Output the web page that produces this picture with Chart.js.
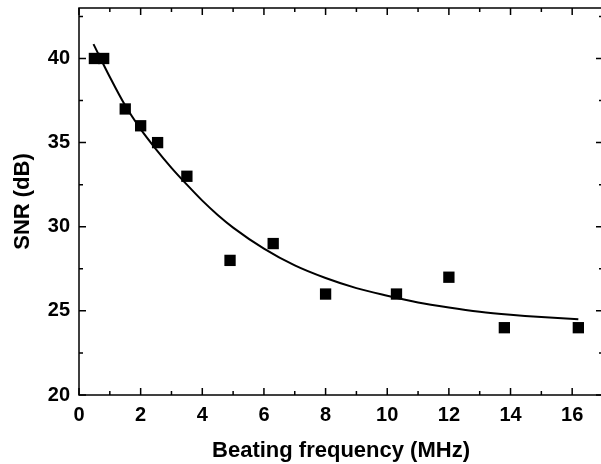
<!DOCTYPE html>
<html>
<head>
<meta charset="utf-8">
<script src="https://cdn.jsdelivr.net/npm/chart.js@4.4.0/dist/chart.umd.min.js"></script>
<style>
  html, body { margin: 0; padding: 0; background: #fff; }
  #wrap { width: 601px; height: 464px; overflow: hidden; }
  #wrap canvas { display: block; }
</style>
</head>
<body>
<div id="wrap"><canvas id="snrChart" width="611" height="464"></canvas></div>
<script>
// measured points
const freqMHz = [0.5, 0.8, 1.5, 2.0, 2.55, 3.5, 4.9, 6.3, 8.0, 10.3, 12.0, 13.8, 16.2];
const snrDb = [40, 40, 37, 36, 35, 33, 28, 29, 26, 26, 27, 24, 24];

// fitted curve
const fitFreq = [0.47, 1.0, 1.5, 2.0, 2.5, 3.0, 3.5, 4.0, 4.5, 5.0, 6.0, 7.0, 8.0, 9.0, 10.0, 11.0, 12.0, 13.0, 14.0, 15.0, 16.2];
const fitSnr = [40.85, 38.9, 37.2, 35.8, 34.6, 33.5, 32.5, 31.55, 30.7, 29.95, 28.7, 27.7, 26.95, 26.35, 25.9, 25.5, 25.2, 24.95, 24.77, 24.63, 24.5];

const X_MIN = 0, X_MAX = 17, Y_MIN = 20, Y_MAX = 43;

const FONT = '"Liberation Sans", Arial, Helvetica, sans-serif';

// box round the plot with inward ticks on all four sides
const frameTicks = {
    id: 'frameTicks',
    afterDraw(chart) {
        const ctx = chart.ctx;
        const area = chart.chartArea;
        const xs = chart.scales.x;
        const ys = chart.scales.y;
        ctx.save();
        ctx.strokeStyle = '#000';
        ctx.lineWidth = 1.5;
        ctx.strokeRect(area.left, area.top, area.right - area.left, area.bottom - area.top);
        ctx.beginPath();
        for (let v = X_MIN; v <= X_MAX; v += 1) {
            const px = xs.getPixelForValue(v);
            const len = (v % 2 === 0) ? 7 : 4;
            ctx.moveTo(px, area.bottom);
            ctx.lineTo(px, area.bottom - len);
            ctx.moveTo(px, area.top);
            ctx.lineTo(px, area.top + len);
        }
        for (let v = Y_MIN; v <= Y_MAX; v += 2.5) {
            const py = ys.getPixelForValue(v);
            const len = (v % 5 === 0) ? 7 : 4;
            ctx.moveTo(area.left, py);
            ctx.lineTo(area.left + len, py);
            ctx.moveTo(area.right, py);
            ctx.lineTo(area.right - len, py);
        }
        ctx.stroke();
        ctx.restore();
    }
};

const points = freqMHz.map((f, i) => ({x: f, y: snrDb[i]}));
const fitLine = fitFreq.map((f, i) => ({x: f, y: fitSnr[i]}));

new Chart(document.getElementById('snrChart'), {
    type: 'scatter',
    data: {
        datasets: [{
            type: 'line',
            data: fitLine,
            borderColor: '#000',
            borderWidth: 2,
            pointRadius: 0,
            cubicInterpolationMode: 'monotone',
            fill: false,
            order: 2
        }, {
            type: 'scatter',
            data: points,
            pointStyle: 'rect',
            pointRadius: 8,
            backgroundColor: '#000',
            borderColor: '#000',
            borderWidth: 0,
            order: 1
        }]
    },
    plugins: [frameTicks],
    options: {
        responsive: false,
        animation: false,
        layout: {padding: {left: 0, top: 7, right: 3, bottom: 0}},
        plugins: {legend: {display: false}, tooltip: {enabled: false}},
        scales: {
            x: {
                type: 'linear',
                min: X_MIN,
                max: X_MAX,
                grid: {display: false, drawTicks: false},
                border: {display: false},
                ticks: {
                    stepSize: 2,
                    includeBounds: false,
                    padding: 8,
                    color: '#000',
                    maxRotation: 0,
                    font: {family: FONT, size: 20, weight: 'bold'}
                },
                title: {
                    display: true,
                    text: 'Beating frequency (MHz)',
                    color: '#000',
                    padding: {top: 0, bottom: 0},
                    font: {family: FONT, size: 22, weight: 'bold'}
                },
                afterFit(scale) {
                    scale.height = 69;
                    scale.paddingLeft = 0;
                    scale.paddingRight = 0;
                }
            },
            y: {
                type: 'linear',
                min: Y_MIN,
                max: Y_MAX,
                grid: {display: false, drawTicks: false},
                border: {display: false},
                ticks: {
                    stepSize: 5,
                    includeBounds: false,
                    padding: 9,
                    color: '#000',
                    font: {family: FONT, size: 20, weight: 'bold'}
                },
                title: {
                    display: true,
                    text: 'SNR (dB)',
                    color: '#000',
                    padding: {top: 10, bottom: 0},
                    font: {family: FONT, size: 22, weight: 'bold'}
                },
                afterFit(scale) {
                    scale.width = 79;
                    scale.paddingTop = 0;
                    scale.paddingBottom = 0;
                }
            }
        }
    }
});
</script>
</body>
</html>
